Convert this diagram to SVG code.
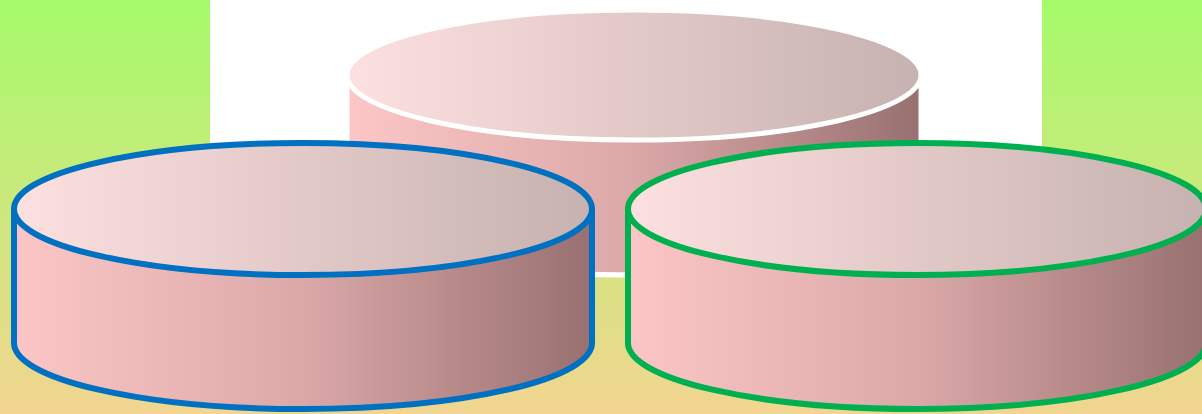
<svg xmlns="http://www.w3.org/2000/svg" width="1202" height="414" viewBox="0 0 1202 414">
<defs>
<linearGradient id="bg" x1="0" y1="0" x2="0" y2="1">
<stop offset="0" stop-color="#a5fb6a"/>
<stop offset="1" stop-color="#f2d590"/>
</linearGradient>
<linearGradient id="body" x1="0" y1="0" x2="1" y2="0">
<stop offset="0" stop-color="#fcc6c6"/>
<stop offset="0.5" stop-color="#dba8a8"/>
<stop offset="1" stop-color="#987070"/>
</linearGradient>
<linearGradient id="top" x1="0" y1="0" x2="1" y2="0">
<stop offset="0" stop-color="#fde0e0"/>
<stop offset="1" stop-color="#c6b2b0"/>
</linearGradient>
</defs>
<style>
.body{fill:url(#body);stroke-width:6;stroke-linejoin:round}
.top{fill:url(#top);stroke-width:6}
.back .body,.back .top{stroke:#ffffff;stroke-width:5}
.blue .body,.blue .top{stroke:#0070c0}
.green .body,.green .top{stroke:#00b050}
</style>
<rect x="0" y="0" width="1202" height="414" fill="url(#bg)"/>
<rect x="210" y="0" width="832" height="272" fill="#ffffff"/>
<g id="back-cylinder" class="back">
<path class="body" d="M347,75 L347,210 A287,65 0 0 0 921,210 L921,75 Z"/>
<ellipse class="top" cx="634" cy="75" rx="287" ry="65"/>
</g>
<g id="left-cylinder" class="blue">
<path class="body" d="M14,209 L14,343 A289,66 0 0 0 592,343 L592,209 Z"/>
<ellipse class="top" cx="303" cy="209" rx="289" ry="66"/>
</g>
<g id="right-cylinder" class="green">
<path class="body" d="M628,209 L628,343 A289,66 0 0 0 1206,343 L1206,209 Z"/>
<ellipse class="top" cx="917" cy="209" rx="289" ry="66"/>
</g>
<g id="connectors"></g>
</svg>
